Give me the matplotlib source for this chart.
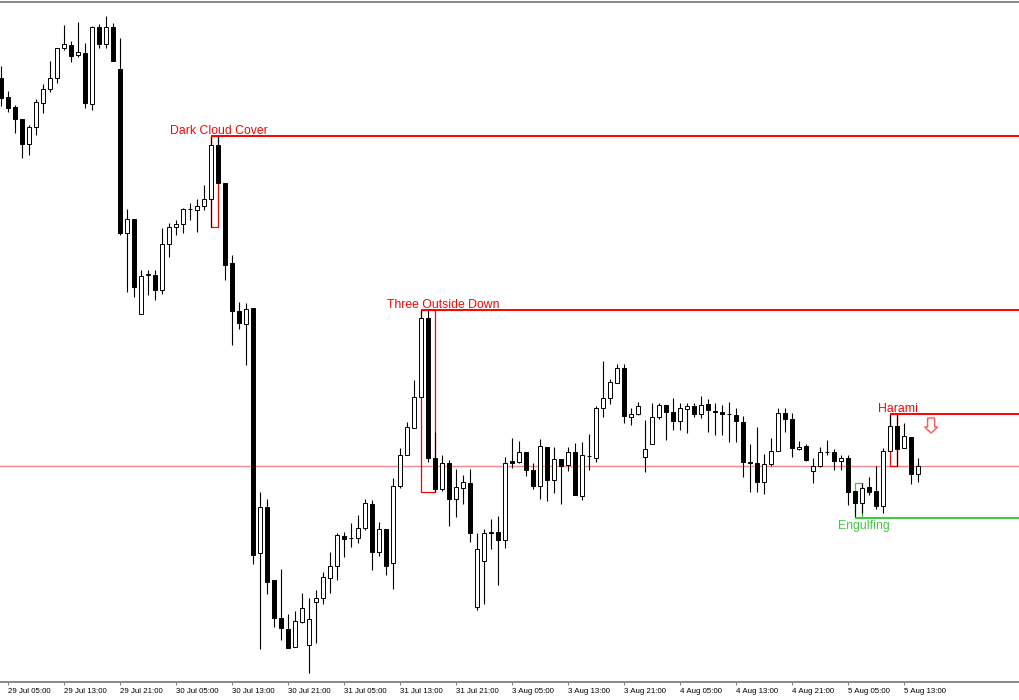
import numpy as np
import matplotlib.pyplot as plt
from matplotlib.patches import Rectangle, Polygon

plt.rcParams['font.family'] = ['Liberation Sans', 'DejaVu Sans']

# hourly bars, 29 Jul 04:00 -> 5 Aug 15:00, prices in pips (1.xxxx)
opens = [2922, 2903, 2893, 2881, 2856, 2873, 2897, 2911, 2922, 2952,
         2955, 2945, 2947, 2896, 2973, 2956, 2973, 2931, 2767, 2781,
         2686, 2725, 2725, 2710, 2756, 2773, 2776, 2791, 2790, 2794,
         2801, 2855, 2817, 2737, 2689, 2676, 2692, 2447, 2493, 2420,
         2382, 2371, 2353, 2378, 2355, 2398, 2402, 2422, 2434, 2464,
         2462, 2462, 2472, 2496, 2448, 2471, 2437, 2514, 2545, 2572,
         2603, 2682, 2542, 2511, 2537, 2501, 2512, 2517, 2393, 2439,
         2468, 2468, 2460, 2539, 2538, 2548, 2530, 2514, 2553, 2520,
         2541, 2535, 2548, 2504, 2544, 2542, 2592, 2602, 2617, 2632,
         2583, 2586, 2543, 2556, 2583, 2595, 2588, 2579, 2591, 2594,
         2586, 2596, 2589, 2588, 2586, 2585, 2578, 2538, 2537, 2518,
         2536, 2549, 2587, 2581, 2551, 2554, 2529, 2534, 2548, 2548,
         2539, 2542, 2509, 2497, 2513, 2509, 2494, 2549, 2574, 2552,
         2563, 2526]
highs = [2934, 2909, 2895, 2881, 2875, 2901, 2916, 2939, 2952, 2975,
         2959, 2978, 2957, 2974, 2976, 2984, 2977, 2962, 2791, 2781,
         2730, 2730, 2730, 2772, 2777, 2780, 2792, 2797, 2801, 2815,
         2864, 2864, 2817, 2745, 2698, 2697, 2692, 2508, 2501, 2420,
         2431, 2386, 2389, 2407, 2402, 2410, 2428, 2448, 2467, 2468,
         2477, 2485, 2501, 2500, 2478, 2471, 2522, 2552, 2578, 2620,
         2690, 2690, 2568, 2545, 2540, 2531, 2525, 2531, 2467, 2471,
         2481, 2484, 2543, 2562, 2559, 2548, 2537, 2561, 2553, 2553,
         2541, 2553, 2557, 2558, 2566, 2594, 2639, 2621, 2636, 2636,
         2592, 2598, 2580, 2597, 2597, 2595, 2602, 2597, 2597, 2597,
         2604, 2601, 2597, 2595, 2598, 2592, 2584, 2556, 2573, 2546,
         2562, 2592, 2592, 2587, 2559, 2556, 2542, 2553, 2560, 2551,
         2545, 2545, 2509, 2517, 2523, 2534, 2552, 2586, 2586, 2577,
         2563, 2542]
lows = [2894, 2888, 2867, 2842, 2845, 2865, 2887, 2908, 2917, 2950,
        2938, 2943, 2892, 2890, 2952, 2952, 2939, 2765, 2708, 2703,
        2686, 2705, 2700, 2706, 2743, 2765, 2767, 2780, 2768, 2790,
        2773, 2817, 2720, 2655, 2671, 2635, 2436, 2351, 2406, 2373,
        2360, 2352, 2353, 2377, 2327, 2357, 2396, 2407, 2420, 2443,
        2453, 2457, 2470, 2430, 2444, 2425, 2411, 2512, 2545, 2572,
        2603, 2538, 2508, 2509, 2474, 2483, 2496, 2458, 2390, 2396,
        2451, 2415, 2452, 2532, 2537, 2524, 2511, 2501, 2499, 2507,
        2496, 2529, 2505, 2500, 2530, 2538, 2583, 2596, 2617, 2577,
        2575, 2585, 2528, 2556, 2581, 2560, 2570, 2570, 2567, 2583,
        2582, 2568, 2565, 2565, 2558, 2558, 2523, 2508, 2508, 2506,
        2534, 2549, 2568, 2543, 2550, 2539, 2517, 2533, 2545, 2530,
        2530, 2495, 2482, 2487, 2505, 2491, 2487, 2549, 2534, 2552,
        2516, 2518]
closes = [2902, 2892, 2881, 2856, 2873, 2898, 2911, 2922, 2952, 2956,
          2944, 2948, 2897, 2973, 2956, 2973, 2939, 2767, 2781, 2713,
          2724, 2726, 2710, 2756, 2773, 2776, 2791, 2791, 2794, 2801,
          2855, 2817, 2735, 2689, 2677, 2691, 2445, 2493, 2418, 2382,
          2372, 2352, 2379, 2392, 2381, 2402, 2423, 2434, 2465, 2461,
          2462, 2472, 2497, 2448, 2471, 2434, 2514, 2545, 2573, 2603,
          2682, 2542, 2511, 2537, 2501, 2513, 2518, 2467, 2451, 2467,
          2467, 2460, 2537, 2537, 2548, 2530, 2514, 2554, 2520, 2541,
          2534, 2548, 2505, 2545, 2544, 2592, 2602, 2618, 2632, 2584,
          2586, 2594, 2551, 2583, 2595, 2588, 2579, 2592, 2594, 2586,
          2595, 2590, 2588, 2586, 2586, 2579, 2538, 2537, 2518, 2536,
          2549, 2587, 2581, 2552, 2553, 2540, 2534, 2548, 2548, 2539,
          2542, 2508, 2497, 2512, 2508, 2494, 2549, 2574, 2551, 2564,
          2526, 2534]

tick_labels = ['29 Jul 05:00', '29 Jul 13:00', '29 Jul 21:00', '30 Jul 05:00',
               '30 Jul 13:00', '30 Jul 21:00', '31 Jul 05:00', '31 Jul 13:00',
               '31 Jul 21:00', '3 Aug 05:00', '3 Aug 13:00', '3 Aug 21:00',
               '4 Aug 05:00', '4 Aug 13:00', '4 Aug 21:00', '5 Aug 05:00',
               '5 Aug 13:00']

# name, first bar, last bar, bullish?, label centre
patterns = [('Dark Cloud Cover', 30, 31, False, 31.1),
            ('Three Outside Down', 60, 62, False, 63.2),
            ('Engulfing', 122, 123, True, 123.3),
            ('Harami', 127, 128, False, 128.1)]
signal_bar = 132.9   # down arrow after the harami

o = 1 + np.array(opens) / 10000
h = 1 + np.array(highs) / 10000
l = 1 + np.array(lows) / 10000
c = 1 + np.array(closes) / 10000
x = np.arange(len(o))
up = c >= o

fig = plt.figure(figsize=(10.2, 7.0), dpi=100)
ax = fig.add_axes([0, 18 / 700, 1, 680 / 700])

ax.axhline(c[-1], color='#f08a8a', lw=1.0, zorder=0.5)

ax.vlines(x, l, h, color='black', lw=0.8, zorder=1)
ax.bar(x, np.abs(c - o), bottom=np.minimum(o, c), width=0.6,
       color=np.where(up, 'white', 'black'), edgecolor='black',
       linewidth=0.7, zorder=2)

x_right = 145.6
for name, i0, i1, bull, lx in patterns:
    col = '#44c844' if bull else '#ff0000'
    top = h[i0:i1 + 1].max()
    bot = l[i0:i1 + 1].min()
    # box sits behind the candles
    ax.add_patch(Rectangle((i0, bot), i1 - i0, top - bot, fill=False,
                           edgecolor=col, lw=0.9, zorder=0.8))
    if bull:
        ax.hlines(bot, i0, x_right, color=col, lw=1.5, zorder=3)
        ax.text(lx, bot - 0.0002, name, color=col, fontsize=8.8,
                ha='center', va='top')
    else:
        ax.hlines(top, i0, x_right, color=col, lw=1.4, zorder=3)
        ax.text(lx, top + 0.0002, name, color=col, fontsize=8.8,
                ha='center', va='baseline')

# hollow down arrow
a_top, a_mid, a_bot = 1.2582, 1.2573, 1.2567
arrow = [(signal_bar - 0.5, a_top), (signal_bar + 0.5, a_top),
         (signal_bar + 0.5, a_mid), (signal_bar + 0.93, a_mid),
         (signal_bar, a_bot), (signal_bar - 0.93, a_mid),
         (signal_bar - 0.5, a_mid)]
ax.add_patch(Polygon(arrow, closed=True, facecolor='white',
                     edgecolor='#ff5555', lw=1.0, zorder=3))

ax.set_xlim(-0.14, x_right)
ax.set_ylim(1.2318, 1.2998)
ax.set_xticks(np.arange(len(tick_labels)) * 8 + 1)
ax.set_xticklabels(tick_labels, fontsize=5.7, ha='left')
ax.tick_params(axis='x', direction='out', length=2.5, width=0.8,
               color='#808080', pad=1.5)
ax.set_yticks([])
for side in ['left', 'right']:
    ax.spines[side].set_visible(False)
for side in ['top', 'bottom']:
    ax.spines[side].set_color('#808080')
    ax.spines[side].set_linewidth(1.3)

fig.savefig('out.png', dpi=100)
